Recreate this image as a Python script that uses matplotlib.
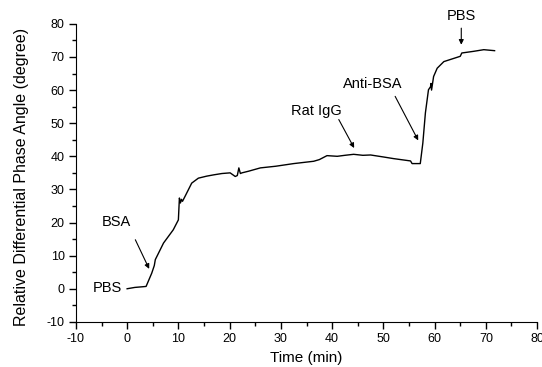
import matplotlib
matplotlib.use("Agg")
import matplotlib.pyplot as plt
from matplotlib.ticker import MultipleLocator

plt.rcParams['font.family'] = ['Liberation Sans', 'DejaVu Sans']
plt.rcParams['axes.unicode_minus'] = False

time_min = [0.0, 1.5, 3.0, 3.7, 4.8, 5.3, 5.5, 7.1, 9.0, 10.0, 10.2, 10.4, 10.6, 10.8,
            11.3, 12.6, 13.9, 15.5, 16.9, 18.5, 20.1, 21.1, 21.5, 21.8, 22.1, 22.4, 23.7,
            26.0, 29.0, 32.5, 36.4, 37.5, 39.0, 41.0, 42.5, 44.2, 46.0, 47.5, 50.0, 52.0,
            55.3, 55.6, 57.2, 57.7, 58.2, 58.8, 59.2, 59.3, 59.4, 59.8, 60.5, 61.8,
            65.0, 65.3, 67.6, 69.6, 71.7]
phase_deg = [0.0, 0.4, 0.6, 0.7, 4.7, 7.0, 8.8, 13.8, 17.8, 20.8, 27.4, 25.9, 27.0, 26.4,
             27.9, 31.9, 33.4, 34.0, 34.4, 34.8, 35.0, 33.9, 34.2, 36.5, 34.8, 35.0, 35.5,
             36.5, 37.0, 37.8, 38.5, 39.0, 40.2, 40.0, 40.3, 40.6, 40.3, 40.4, 39.8, 39.3,
             38.6, 37.8, 37.8, 44.0, 53.1, 60.1, 61.0, 62.0, 60.0, 64.1, 66.6, 68.6,
             70.2, 71.2, 71.7, 72.2, 71.9]

annotations = ["BSA", "Rat IgG", "Anti-BSA", "PBS"]
annot_text_xy = [(-2.1, 20.2), (37.0, 53.8), (47.9, 61.8), (65.2, 82.5)]
annot_tail_xy = [(1.6, 14.8), (41.3, 51.1), (52.3, 58.1), (65.2, 78.7)]
annot_head_xy = [(4.3, 6.0), (44.3, 42.5), (56.8, 44.8), (65.2, 73.7)]

fig = plt.figure(figsize=(5.42, 3.67), dpi=100)
ax = fig.add_axes([0.140, 0.123, 0.851, 0.812])
ax.plot(time_min, phase_deg, color='black', lw=1.0)

ax.set_xlim(-10, 80)
ax.set_ylim(-10, 80)
ax.xaxis.set_major_locator(MultipleLocator(10))
ax.xaxis.set_minor_locator(MultipleLocator(5))
ax.yaxis.set_major_locator(MultipleLocator(10))
ax.yaxis.set_minor_locator(MultipleLocator(5))
ax.spines['top'].set_visible(False)
ax.spines['right'].set_visible(False)
ax.tick_params(which='major', direction='out', length=5, width=1, labelsize=9, pad=3)
ax.tick_params(which='minor', direction='out', length=3, width=1)
ax.set_xlabel('Time (min)', fontsize=11, labelpad=4)
ax.set_ylabel('Relative Differential Phase Angle (degree)', fontsize=11.5)
ax.yaxis.set_label_coords(-0.102, 0.485)

ax.text(-1.0, 0.3, "PBS", ha='right', va='center', fontsize=10.5)
for label, txy, tail, head in zip(annotations, annot_text_xy, annot_tail_xy, annot_head_xy):
    ax.text(txy[0], txy[1], label, ha='center', va='center', fontsize=10.5, clip_on=False)
    ax.annotate("", xy=head, xytext=tail, annotation_clip=False,
                arrowprops=dict(arrowstyle='-|>', color='black', lw=0.8,
                                mutation_scale=7, shrinkA=0, shrinkB=0))

fig.savefig("out.png", dpi=100)
